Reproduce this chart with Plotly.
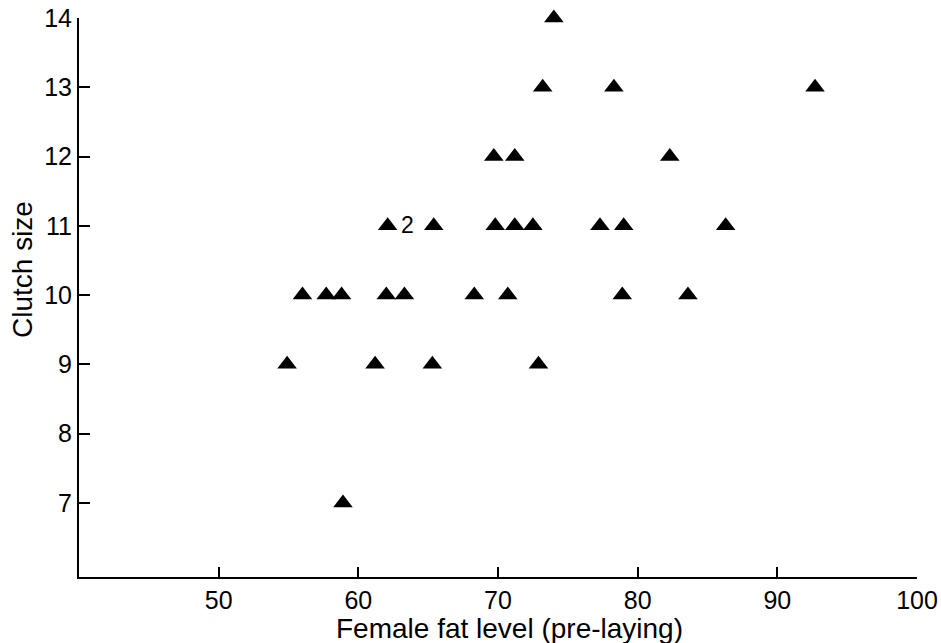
import plotly.graph_objects as go

fat_level = [54.9, 56.0, 57.7, 58.8, 58.9, 61.2, 62.1, 62.0, 63.3, 65.4, 65.3, 68.3,
             69.7, 69.8, 70.7, 71.2, 71.2, 72.5, 72.9, 73.2, 74.0, 77.3, 78.3, 79.0,
             78.9, 82.3, 83.6, 86.3, 92.7]
clutch_size = [9, 10, 10, 10, 7, 9, 11, 10, 10, 11, 9, 10,
               12, 11, 10, 12, 11, 11, 9, 13, 14, 11, 13, 11,
               10, 12, 10, 11, 13]
x_ticks = [50, 60, 70, 80, 90, 100]
y_ticks = [7, 8, 9, 10, 11, 12, 13, 14]
label_point = (62.1, 11, "2")
x_title = "Female fat level (pre-laying)"
y_title = "Clutch size"

font = "Liberation Sans, Arial, Helvetica, sans-serif"

W, H = 941, 643
L, R, T, B = 79, 24, 18, 66
pw, ph = W - L - R, H - T - B

fig = go.Figure()
fig.add_trace(go.Scatter(
    x=fat_level, y=clutch_size, mode="markers", cliponaxis=False,
    marker=dict(symbol="triangle-up", size=17, color="black", line=dict(width=0)),
    showlegend=False, hoverinfo="x+y"))

fig.add_annotation(x=label_point[0], y=label_point[1], text=label_point[2],
                   showarrow=False, xanchor="left", xshift=11, yshift=1,
                   font=dict(family=font, size=23, color="black"))

# axis titles placed as annotations in paper coordinates
fig.add_annotation(xref="paper", yref="paper",
                   x=(510 - L) / pw, y=-(628 - (T + ph)) / ph,
                   text=x_title, showarrow=False, xanchor="center", yanchor="middle",
                   font=dict(family=font, size=28, color="black"))
fig.add_annotation(xref="paper", yref="paper",
                   x=(22 - L) / pw, y=1 - (270 - T) / ph,
                   text=y_title, textangle=-90, showarrow=False,
                   xanchor="center", yanchor="middle",
                   font=dict(family=font, size=28, color="black"))

fig.update_layout(
    width=W, height=H,
    margin=dict(l=L, r=R, t=T, b=B, autoexpand=False),
    paper_bgcolor="white", plot_bgcolor="white",
    font=dict(family=font, size=25, color="black"),
)
fig.update_xaxes(range=[40, 100], tickvals=x_ticks, ticks="inside", ticklen=10,
                 tickwidth=2, tickcolor="black", showline=True, linewidth=2,
                 linecolor="black", showgrid=False, zeroline=False,
                 automargin=False, tickfont=dict(size=25))
fig.update_yaxes(range=[5.93, 14], tickvals=y_ticks, ticks="inside", ticklen=11,
                 tickwidth=2, tickcolor="black", showline=True, linewidth=2,
                 linecolor="black", showgrid=False, zeroline=False,
                 automargin=False, tickfont=dict(size=25))

fig.write_html("out.html",
               config={"displayModeBar": False},
               post_script="document.body.style.margin='0';"
                           "document.body.style.overflow='hidden';")
